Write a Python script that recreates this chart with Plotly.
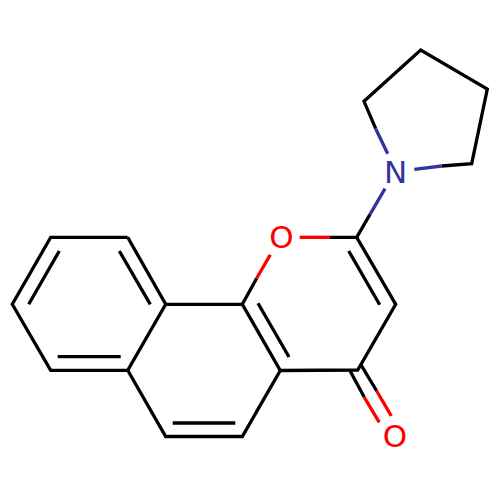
import plotly.graph_objects as go

# atom label positions in pixels
label_text = ["N", "O", "O"]
label_color = ["#33339f", "#ff0000", "#ff0000"]
label_x = [395.5, 281.5, 395]
label_y = [175, 240.5, 439]

# black bonds, None splits the strokes
black_x = [375.7, 364, 420.7, 487.3, 471.7, 441.7, None,
           370, 356.7, 330, None,
           356.7, 395.7, 357.7, 280.3, 242.3, 256.7, None,
           348.7, 379.7, None,
           258, 289, None,
           127.7, 50.7, 12.3, 50.7, 127.7, 165.7, 127.7, None,
           127.7, 165.7, 242.3, 280.3, None,
           165.7, 242.3, None,
           59.3, 28.7, None,
           119.3, 150.3, None,
           57.7, 120.7, None,
           172.7, 235.3, None,
           350, 364.3, None,
           360.7, 376.7]
black_y = [128.7, 101.3, 50, 89, 163.7, 166, None,
           214.3, 237.3, 237.3, None,
           237.3, 304.3, 370, 370.5, 304.3, 278.3, None,
           251, 304.7, None,
           303.3, 357, None,
           237.3, 237.3, 304.3, 370.3, 370.3, 304.3, 237.3, None,
           370.3, 436.5, 436.5, 370.5, None,
           304.3, 304.3, None,
           251, 304.3, None,
           251, 304.3, None,
           356.7, 356.7, None,
           423, 423, None,
           370.7, 397.3, None,
           364.3, 391]

# coloured half bonds
blue_x = [375.7, 387.7, None, 414.3, 441.7, None, 385, 370]
blue_y = [128.7, 153.7, None, 169.3, 166, None, 188.7, 214.3]
red_x = [299.7, 330, None, 270.3, 256.7, None, 364.3, 379.3, None, 376.7, 391.3]
red_y = [237.3, 237.3, None, 254.7, 278.3, None, 397.3, 422.3, None, 391, 416]

fig = go.Figure()
fig.add_trace(go.Scatter(x=black_x, y=black_y, mode='lines', line=dict(color='#000000', width=3.3)))
fig.add_trace(go.Scatter(x=blue_x, y=blue_y, mode='lines', line=dict(color='#33339f', width=3.3)))
fig.add_trace(go.Scatter(x=red_x, y=red_y, mode='lines', line=dict(color='#ff0000', width=3.3)))
fig.add_trace(go.Scatter(x=label_x, y=label_y, mode='text', text=label_text,
                         textposition='middle center',
                         textfont=dict(family='DejaVu Sans', size=31, color=label_color)))

fig.update_layout(width=500, height=500, margin=dict(l=0, r=0, t=0, b=0), showlegend=False,
                  paper_bgcolor='white', plot_bgcolor='white', hovermode=False)
# the page body adds an 8px margin, so the ranges start at 8
fig.update_xaxes(range=[8, 508], visible=False)
fig.update_yaxes(range=[508, 8], visible=False)

fig.write_html("out.html")
